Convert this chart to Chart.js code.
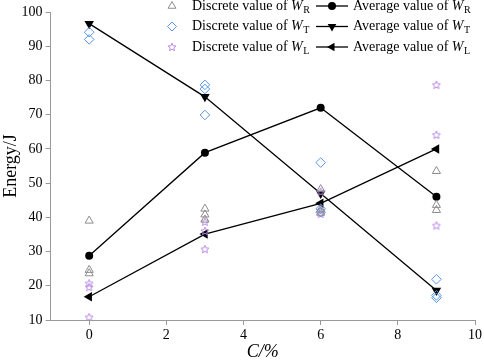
<!DOCTYPE html>
<html><head><meta charset="utf-8">
<script src="https://cdn.jsdelivr.net/npm/chart.js@4/dist/chart.umd.min.js"></script>
<style>html,body{margin:0;padding:0;background:#fff}#wrap{width:484px;height:363px}</style>
</head><body><div id="wrap"><canvas id="c" width="484" height="363"></canvas></div>
<script>
// ---- data ----
const contents = [0, 3, 6, 9];              // C / %
const avgWR = [28.8, 58.9, 72.0, 46.0];
const avgWT = [96.6, 75.2, 47.0, 18.6];
const avgWL = [16.8, 35.1, 44.1, 60.0];
const discWR = [[39.0, 24.6, 23.6], [42.5, 40.8, 39.3], [48.2, 42.3, 41.3], [53.5, 43.6, 42.1]];
const discWT = [[94.1, 92.0], [78.7, 77.5, 69.9], [56.0, 42.5, 41.5], [21.9, 17.2, 16.5]];
const discWL = [[20.7, 19.6, 10.8], [38.7, 36.0, 30.7], [47.5, 42.0, 41.0], [78.7, 64.1, 37.6]];
const xTickValues = [0, 2, 4, 6, 8, 10];
const yTickValues = [10, 20, 30, 40, 50, 60, 70, 80, 90, 100];
const seriesSubs = ['R', 'T', 'L'];

const COL_R = '#8c8c8c', COL_T = '#5a96e6', COL_L = '#b98ae6';
const FONT = '"Liberation Serif", "Times New Roman", serif';

function pts(xs, ys) { return xs.map((x, i) => ({x: x, y: ys[i]})); }
function discPts(groups) {
  const out = [];
  groups.forEach((vals, i) => vals.forEach(v => out.push({x: contents[i], y: v})));
  return out;
}
function starPath(ctx, cx, cy, R, r) {
  ctx.beginPath();
  for (let k = 0; k < 10; k++) {
    const rad = (k % 2 === 0) ? R : r;
    const a = -Math.PI / 2 + k * Math.PI / 5;
    const px = cx + rad * Math.cos(a), py = cy + rad * Math.sin(a);
    if (k === 0) ctx.moveTo(px, py); else ctx.lineTo(px, py);
  }
  ctx.closePath();
}
function makeStar() {
  const c = document.createElement('canvas');
  c.width = 10; c.height = 10;
  const g = c.getContext('2d');
  g.strokeStyle = COL_L; g.lineWidth = 1;
  starPath(g, 5, 5.3, 4.2, 1.9);
  g.stroke();
  return c;
}
const starImg = makeStar();

// ---- legend drawing ----
function drawTri(ctx, x, y, r, rotDeg, fill, stroke) {
  const rot = rotDeg * Math.PI / 180;
  ctx.beginPath();
  for (let k = 0; k < 3; k++) {
    const a = rot + k * 2 * Math.PI / 3;
    const px = x + Math.sin(a) * r, py = y - Math.cos(a) * r;
    if (k === 0) ctx.moveTo(px, py); else ctx.lineTo(px, py);
  }
  ctx.closePath();
  if (fill) { ctx.fillStyle = fill; ctx.fill(); }
  if (stroke) { ctx.strokeStyle = stroke; ctx.lineWidth = 1; ctx.stroke(); }
}
function drawLabel(ctx, prefix, sub, x, y) {
  ctx.fillStyle = '#000';
  ctx.textBaseline = 'middle';
  ctx.textAlign = 'left';
  ctx.font = '14px ' + FONT;
  ctx.fillText(prefix, x, y);
  const w1 = ctx.measureText(prefix).width;
  ctx.font = 'italic 14px ' + FONT;
  ctx.fillText('W', x + w1, y);
  const w2 = ctx.measureText('W').width;
  ctx.font = '10px ' + FONT;
  ctx.fillText(sub, x + w1 + w2 + 0.5, y + 4);
}
const legendPlugin = {
  id: 'customLegend',
  afterDraw(chart) {
    const ctx = chart.ctx;
    ctx.save();
    const rows = [6, 26.5, 47];
    rows.forEach((y, i) => {
      if (i === 0) drawTri(ctx, 172, y, 4.5, 0, null, COL_R);
      if (i === 1) {
        ctx.beginPath();
        ctx.moveTo(172, y - 4.5); ctx.lineTo(176.5, y); ctx.lineTo(172, y + 4.5); ctx.lineTo(167.5, y);
        ctx.closePath(); ctx.strokeStyle = COL_T; ctx.lineWidth = 1; ctx.stroke();
      }
      if (i === 2) ctx.drawImage(starImg, 167, y - 5);
      drawLabel(ctx, 'Discrete value of ', seriesSubs[i], 192, y);
      ctx.strokeStyle = '#000'; ctx.lineWidth = 1.3;
      ctx.beginPath(); ctx.moveTo(316, y); ctx.lineTo(348, y); ctx.stroke();
      if (i === 0) { ctx.beginPath(); ctx.arc(332, y, 4, 0, 2 * Math.PI); ctx.fillStyle = '#000'; ctx.fill(); }
      if (i === 1) drawTri(ctx, 332, y, 5, 180, '#000', null);
      if (i === 2) drawTri(ctx, 332, y, 5, -90, '#000', null);
      drawLabel(ctx, 'Average value of ', seriesSubs[i], 353, y);
    });
    ctx.restore();
  }
};

const avgStyle = {type: 'scatter', showLine: true, borderColor: '#000', backgroundColor: '#000',
  borderWidth: 1.3, pointBorderWidth: 0, pointHoverRadius: 5};

new Chart(document.getElementById('c'), {
  type: 'scatter',
  data: {
    datasets: [
      {label: 'Discrete WR', data: discPts(discWR), pointStyle: 'triangle', pointRadius: 4.7,
        borderColor: COL_R, backgroundColor: 'rgba(0,0,0,0)', borderWidth: 1},
      {label: 'Discrete WT', data: discPts(discWT), pointStyle: 'rectRot', pointRadius: 4.8,
        borderColor: COL_T, backgroundColor: 'rgba(0,0,0,0)', borderWidth: 1},
      {label: 'Discrete WL', data: discPts(discWL), pointStyle: starImg, pointRadius: 4},
      Object.assign({label: 'Average WR', data: pts(contents, avgWR), pointStyle: 'circle', pointRadius: 4}, avgStyle),
      Object.assign({label: 'Average WT', data: pts(contents, avgWT), pointStyle: 'triangle', pointRotation: 180, pointRadius: 5.5}, avgStyle),
      Object.assign({label: 'Average WL', data: pts(contents, avgWL), pointStyle: 'triangle', pointRotation: -90, pointRadius: 5.5}, avgStyle)
    ]
  },
  options: {
    responsive: false,
    animation: false,
    devicePixelRatio: 1,
    layout: {padding: {top: 12, right: 7.7, left: 0, bottom: 0}},
    plugins: {legend: {display: false}, tooltip: {enabled: false}},
    scales: {
      x: {
        type: 'linear', min: -1, max: 10,
        afterFit(s) { s.height = 43; },
        afterBuildTicks(s) { s.ticks = xTickValues.map(v => ({value: v})); },
        border: {display: true, color: '#999', width: 1},
        grid: {display: true, drawOnChartArea: false, drawTicks: true, tickLength: 5, tickColor: '#999'},
        ticks: {color: '#000', font: {family: FONT, size: 14}, padding: 2, maxRotation: 0},
        title: {display: true, text: 'C/%', color: '#000', font: {family: FONT, size: 18, style: 'italic'}, padding: {top: 0, bottom: 0}}
      },
      y: {
        type: 'linear', min: 10, max: 100,
        afterFit(s) { s.width = 50.6; },
        afterBuildTicks(s) { s.ticks = yTickValues.map(v => ({value: v})); },
        border: {display: true, color: '#999', width: 1},
        grid: {display: true, drawOnChartArea: false, drawTicks: true, tickLength: 5, tickColor: '#999'},
        ticks: {color: '#000', font: {family: FONT, size: 14}, padding: 3},
        title: {display: true, text: 'Energy/J', color: '#000', font: {family: FONT, size: 18}, padding: {top: 0, bottom: 0}}
      }
    }
  },
  plugins: [legendPlugin]
});
</script>
</body></html>
